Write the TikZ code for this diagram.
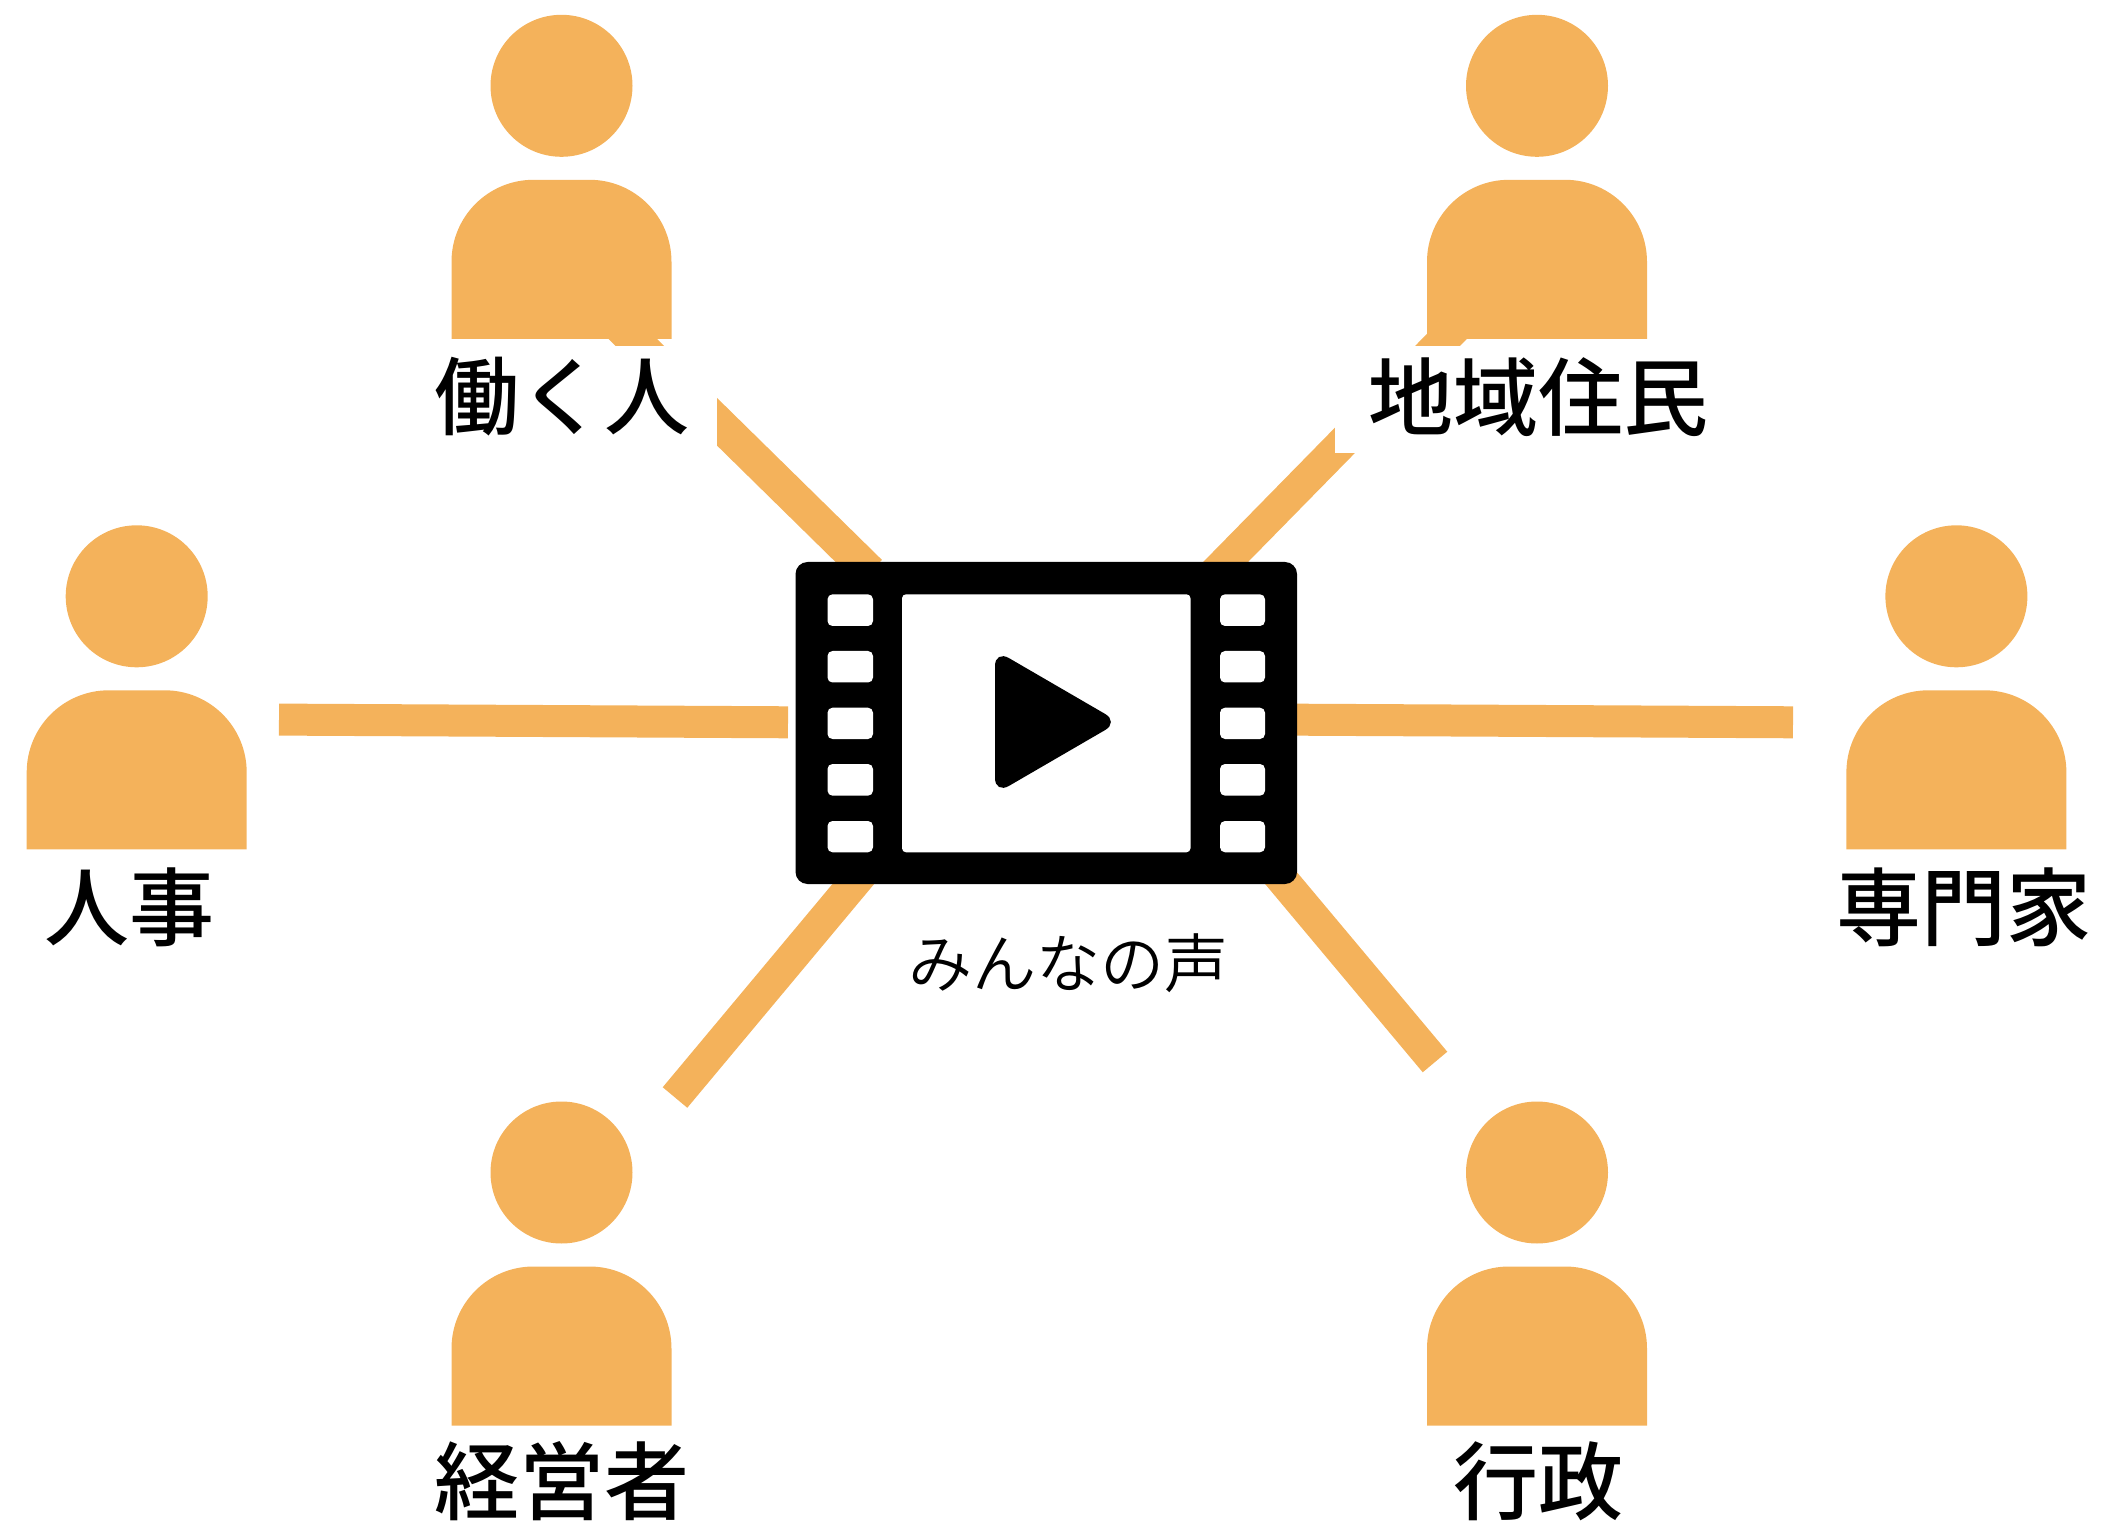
\documentclass[tikz,border=0pt]{standalone}
\usepackage{fontspec}
\setmainfont{Noto Sans CJK JP}
\newfontfamily\labelfont{Noto Sans CJK JP Medium}
\newfontfamily\thinfont{Noto Sans CJK JP DemiLight}
\definecolor{personc}{HTML}{F4B25B}
\tikzset{
  link/.style={draw=personc,line width=16pt,line cap=butt},
  mask/.style={fill=white,draw=none,inner sep=0pt,outer sep=0pt,anchor=center},
  who/.style={inner sep=0pt,font=\labelfont\fontsize{42.5}{46}\selectfont,text=black},
  hole/.style={fill=white,draw=none,rounded corners=2.5pt}
}
\newcommand{\persondraw}[2]{%
  \fill[personc] (#1,#2) circle[radius=35.5pt];
  \fill[personc] (#1-110,#2+253) -- (#1-110,#2+176) arc[start angle=180,end angle=90,radius=41pt] -- (#1+28,#2+94) arc[start angle=90,end angle=0,radius=41pt] -- (#1+110,#2+253) -- cycle;
}
\begin{document}
\begin{tikzpicture}[x=0.5pt,y=-0.5pt]
\useasboundingbox (0,0) rectangle (2101,1524);
% connector anchors
\coordinate (tlP) at (612.4,319);
\coordinate (tlF) at (870,572);
\coordinate (trP) at (1461,322);
\coordinate (trF) at (1205,583);
\coordinate (lP) at (279,719.6);
\coordinate (lF) at (788,722.3);
\coordinate (rP) at (1793,722.3);
\coordinate (rF) at (1280,719.6);
\coordinate (blP) at (675,1097.5);
\coordinate (blF) at (870,864);
\coordinate (brP) at (1435,1062);
\coordinate (brF) at (1265,859);
\draw[link,line width=17pt] (tlP) -- (tlF);
\draw[link] (trP) -- (trF);
\draw[link] (lP) -- (lF);
\draw[link] (rP) -- (rF);
\draw[link] (blP) -- (blF);
\draw[link] (brP) -- (brF);
% masks behind the top labels
\node[mask,minimum width=155.5pt,minimum height=53.5pt] (maskA) at (561.5,399.5) {};
\node[mask,minimum width=203.5pt,minimum height=53.5pt] (maskB) at (1538,399.5) {};
% people
\persondraw{561.5}{85.8}
\persondraw{1537}{85.8}
\persondraw{136.7}{596.3}
\persondraw{1956.4}{596.3}
\persondraw{561.5}{1172.5}
\persondraw{1537}{1172.5}
% labels
\node[who] (a) at (561.5,396.7) {働く人};
\node[who] (b) at (1538,396.7) {地域住民};
\node[who] (c) at (130,907) {人事};
\node[who] (d) at (1964,907) {専門家};
\node[who] (e) at (561.5,1481) {経営者};
\node[who] (f) at (1538,1481) {行政};
% film icon
\node[fill=black,draw=none,rounded corners=6pt,minimum width=250.75pt,minimum height=161pt,inner sep=0pt,outer sep=0pt] (film) at (1046.25,723) {};
\foreach \yy/\zz in {594.3/626,651/682.5,707.7/739,764/795.7,821/852.3}{
  \fill[hole] (827.5,\yy) rectangle (873,\zz);
  \fill[hole] (1220,\yy) rectangle (1265,\zz);
}
\fill[white,rounded corners=2pt] (902,594.3) rectangle (1190.5,852.3);
\fill[black,rounded corners=8pt] (995,650) -- (1119,722) -- (995,794) -- cycle;
\node[inner sep=0pt,font=\thinfont\fontsize{32}{35}\selectfont] (voice) at (1068,963) {みんなの声};
\end{tikzpicture}
\end{document}
